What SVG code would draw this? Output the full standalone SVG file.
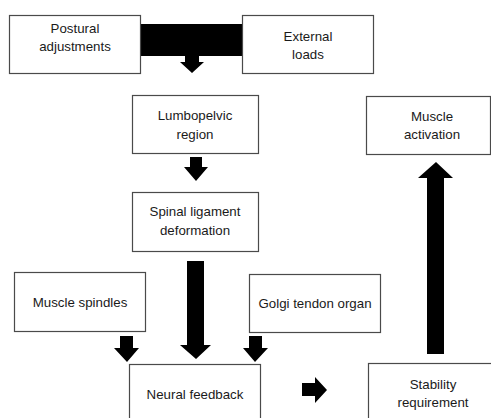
<svg xmlns="http://www.w3.org/2000/svg" width="491" height="418" viewBox="0 0 491 418">
  <style>
    .box { fill: #ffffff; stroke: #4a4a4a; stroke-width: 1.2; }
    .lbl { font-family: "Liberation Sans", Arial, sans-serif; font-size: 13.3px; fill: #1a1a1a; text-anchor: middle; }
    .arr { fill: #000000; }
  </style>
  <rect width="491" height="418" fill="#ffffff"/>

  <!-- block arrows -->
  <g id="connectors">
    <!-- bar joining the two top inputs, pointing down to the lumbopelvic region -->
    <path class="arr" d="M140,24 H243 V56 H199 V62 H204 L192,73 L180,62 H185 V56 H140 Z"/>
    <!-- lumbopelvic region to spinal ligament deformation -->
    <path class="arr" d="M190,157 H202 V167 H208 L196,181 L184,167 H190 Z"/>
    <!-- spinal ligament deformation to neural feedback -->
    <path class="arr" d="M187,261 H204 V345 H211 L196,359 L180,345 H187 Z"/>
    <!-- muscle spindles to neural feedback -->
    <path class="arr" d="M120,336 H133 V348 H139 L127,362 L114,348 H120 Z"/>
    <!-- golgi tendon organ to neural feedback -->
    <path class="arr" d="M249,336 H262 V348 H268 L255,362 L243,348 H249 Z"/>
    <!-- neural feedback to stability requirement -->
    <path class="arr" d="M302,383 H315 V377 L327,390 L315,403 V396 H302 Z"/>
    <!-- stability requirement to muscle activation -->
    <path class="arr" d="M427,354 V178 H418 L436,162 L453,178 H444 V354 Z"/>
  </g>

  <g id="postural-adjustments">
    <rect class="box" x="9.5" y="15.5" width="131" height="58"/>
    <text class="lbl" x="75" y="33">Postural</text>
    <text class="lbl" x="75" y="51">adjustments</text>
  </g>

  <g id="external-loads">
    <rect class="box" x="242.5" y="15.5" width="131" height="58"/>
    <text class="lbl" x="308" y="41">External</text>
    <text class="lbl" x="308" y="59">loads</text>
  </g>

  <g id="lumbopelvic-region">
    <rect class="box" x="132.5" y="95.5" width="126" height="58"/>
    <text class="lbl" x="195" y="120">Lumbopelvic</text>
    <text class="lbl" x="195" y="139">region</text>
  </g>

  <g id="spinal-ligament-deformation">
    <rect class="box" x="132.5" y="192.5" width="126" height="59"/>
    <text class="lbl" x="195" y="216">Spinal ligament</text>
    <text class="lbl" x="195" y="235">deformation</text>
  </g>

  <g id="muscle-spindles">
    <rect class="box" x="14.5" y="272.5" width="131" height="59"/>
    <text class="lbl" x="80" y="307">Muscle spindles</text>
  </g>

  <g id="golgi-tendon-organ">
    <rect class="box" x="249.5" y="274.5" width="131" height="58"/>
    <text class="lbl" x="315" y="308">Golgi tendon organ</text>
  </g>

  <g id="neural-feedback">
    <rect class="box" x="129.5" y="364.5" width="131" height="62"/>
    <text class="lbl" x="195" y="399">Neural feedback</text>
  </g>

  <g id="stability-requirement">
    <rect class="box" x="368.5" y="363.5" width="130" height="62"/>
    <text class="lbl" x="433" y="389">Stability</text>
    <text class="lbl" x="433" y="407">requirement</text>
  </g>

  <g id="muscle-activation">
    <rect class="box" x="366.5" y="96.5" width="124" height="58"/>
    <text class="lbl" x="432" y="121">Muscle</text>
    <text class="lbl" x="432" y="139">activation</text>
  </g>
</svg>
